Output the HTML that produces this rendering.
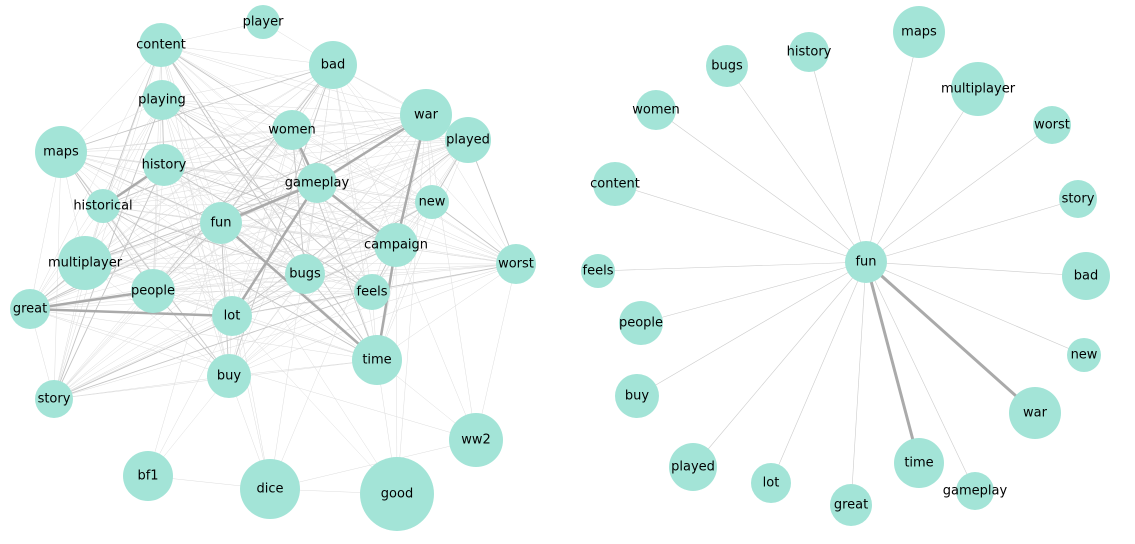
<!DOCTYPE html>
<html><head><meta charset="utf-8"><style>
html,body{margin:0;padding:0;background:#fff;}
svg{display:block;}
text{font-family:"DejaVu Sans","Liberation Sans",sans-serif;font-size:13px;fill:#000;text-anchor:middle;dominant-baseline:central;}
circle{fill:#a3e4d7;}
</style></head><body>
<svg id="s" width="1135" height="544" viewBox="0 0 1135 544">
<g id="edges"></g>
<g id="nodes">
<circle cx="263" cy="22" r="17"/><text x="263" y="22">player</text>
<circle cx="161" cy="45" r="22"/><text x="161" y="45">content</text>
<circle cx="333" cy="65" r="24"/><text x="333" y="65">bad</text>
<circle cx="162" cy="100" r="20"/><text x="162" y="100">playing</text>
<circle cx="426" cy="115" r="26"/><text x="426" y="115">war</text>
<circle cx="468" cy="140" r="23"/><text x="468" y="140">played</text>
<circle cx="292" cy="130" r="20"/><text x="292" y="130">women</text>
<circle cx="61" cy="152" r="26"/><text x="61" y="152">maps</text>
<circle cx="164" cy="165" r="21"/><text x="164" y="165">history</text>
<circle cx="317" cy="183" r="20"/><text x="317" y="183">gameplay</text>
<circle cx="432" cy="202" r="17"/><text x="432" y="202">new</text>
<circle cx="103" cy="206" r="17"/><text x="103" y="206">historical</text>
<circle cx="221" cy="223" r="21"/><text x="221" y="223">fun</text>
<circle cx="396" cy="245" r="22"/><text x="396" y="245">campaign</text>
<circle cx="85" cy="263" r="27"/><text x="85" y="263">multiplayer</text>
<circle cx="516" cy="264" r="20"/><text x="516" y="264">worst</text>
<circle cx="305" cy="274" r="20"/><text x="305" y="274">bugs</text>
<circle cx="153" cy="291" r="22"/><text x="153" y="291">people</text>
<circle cx="372" cy="292" r="18"/><text x="372" y="292">feels</text>
<circle cx="30" cy="309" r="20"/><text x="30" y="309">great</text>
<circle cx="232" cy="316" r="20"/><text x="232" y="316">lot</text>
<circle cx="377" cy="360" r="25"/><text x="377" y="360">time</text>
<circle cx="229" cy="376" r="22"/><text x="229" y="376">buy</text>
<circle cx="54" cy="399" r="19"/><text x="54" y="399">story</text>
<circle cx="476" cy="440" r="27"/><text x="476" y="440">ww2</text>
<circle cx="148" cy="476" r="25"/><text x="148" y="476">bf1</text>
<circle cx="270" cy="489" r="30"/><text x="270" y="489">dice</text>
<circle cx="397" cy="494" r="37"/><text x="397" y="494">good</text>
<circle cx="866" cy="262" r="21"/><text x="866" y="262">fun</text>
<circle cx="919" cy="32" r="26"/><text x="919" y="32">maps</text>
<circle cx="809" cy="52" r="20"/><text x="809" y="52">history</text>
<circle cx="727" cy="66" r="21"/><text x="727" y="66">bugs</text>
<circle cx="978" cy="89" r="27"/><text x="978" y="89">multiplayer</text>
<circle cx="656" cy="110" r="20"/><text x="656" y="110">women</text>
<circle cx="1052" cy="125" r="19"/><text x="1052" y="125">worst</text>
<circle cx="615" cy="184" r="22"/><text x="615" y="184">content</text>
<circle cx="1078" cy="199" r="19"/><text x="1078" y="199">story</text>
<circle cx="598" cy="271" r="17"/><text x="598" y="271">feels</text>
<circle cx="1086" cy="276" r="24"/><text x="1086" y="276">bad</text>
<circle cx="641" cy="323" r="22"/><text x="641" y="323">people</text>
<circle cx="1084" cy="355" r="17"/><text x="1084" y="355">new</text>
<circle cx="637" cy="396" r="22"/><text x="637" y="396">buy</text>
<circle cx="1035" cy="413" r="26"/><text x="1035" y="413">war</text>
<circle cx="919" cy="463" r="25"/><text x="919" y="463">time</text>
<circle cx="693" cy="467" r="24"/><text x="693" y="467">played</text>
<circle cx="771" cy="483" r="20"/><text x="771" y="483">lot</text>
<circle cx="975" cy="491" r="19"/><text x="975" y="491">gameplay</text>
<circle cx="851" cy="505" r="21"/><text x="851" y="505">great</text>
</g>
</svg>
<script>
var L={player:[263,22],content:[161,45],bad:[333,65],playing:[162,100],war:[426,115],played:[468,140],women:[292,130],maps:[61,152],history:[164,165],gameplay:[317,183],"new":[432,202],historical:[103,206],fun:[221,223],campaign:[396,245],multiplayer:[85,263],worst:[516,264],bugs:[305,274],people:[153,291],feels:[372,292],great:[30,309],lot:[232,316],time:[377,360],buy:[229,376],story:[54,399],ww2:[476,440],bf1:[148,476],dice:[270,489],good:[397,494]};
var g=document.getElementById('edges'),ns="http://www.w3.org/2000/svg";
function ln(a,b,w,c){var l=document.createElementNS(ns,'line');l.setAttribute('x1',a[0]);l.setAttribute('y1',a[1]);l.setAttribute('x2',b[0]);l.setAttribute('y2',b[1]);l.setAttribute('stroke',c);l.setAttribute('stroke-width',w);g.appendChild(l);}
var core=["content","bad","playing","war","played","women","maps","history","gameplay","new","historical","fun","campaign","multiplayer","worst","bugs","people","feels","great","lot","time","buy","story"];
for(var i=0;i<core.length;i++)for(var j=i+1;j<core.length;j++){var k=(i*7+j*3)%5;ln(L[core[i]],L[core[j]],k==0?0.9:0.5,k==0?"#c4c4c4":"#dcdcdc");}
var extra=[["player","bad"],["player","content"],["bf1","buy"],["bf1","dice"],["bf1","lot"],["dice","good"],["dice","ww2"],["dice","buy"],["dice","lot"],["dice","gameplay"],["dice","fun"],["good","war"],["good","time"],["good","campaign"],["good","lot"],["good","fun"],["ww2","worst"],["ww2","campaign"],["ww2","war"],["ww2","time"],["ww2","great"],["bf1","fun"],["dice","war"]];
extra.forEach(function(e){ln(L[e[0]],L[e[1]],0.5,"#dddddd");});
var thick=[["gameplay","war"],["gameplay","lot"],["gameplay","campaign"],["fun","time"],["great","lot"],["great","people"],["historical","history"],["campaign","time"],["war","campaign"],["women","gameplay"],["fun","gameplay"]];
thick.forEach(function(e){ln(L[e[0]],L[e[1]],2.5,"#aaa");});
var R={maps:[919,32],history:[809,52],bugs:[727,66],multiplayer:[978,89],women:[656,110],worst:[1052,125],content:[615,184],story:[1078,199],feels:[598,271],bad:[1086,276],people:[641,323],"new":[1084,355],buy:[637,396],war:[1035,413],time:[919,463],played:[693,467],lot:[771,483],gameplay:[975,491],great:[851,505]};
for(var k in R){var t=(k=="war"||k=="time");ln([866,262],R[k],t?3:0.6,t?"#aaa":"#ccc");}
</script>
</body></html>
